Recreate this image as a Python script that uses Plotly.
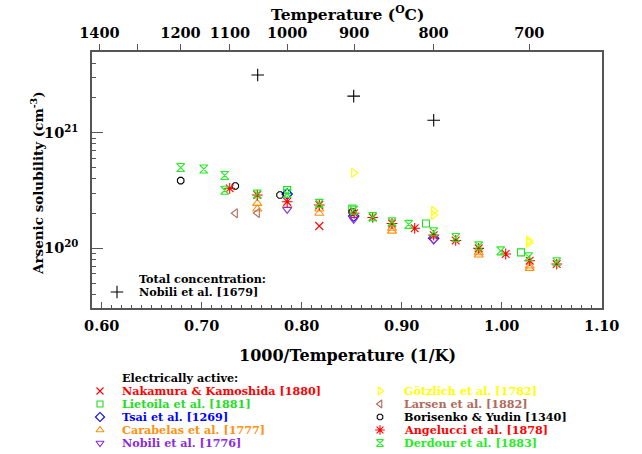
import plotly.graph_objects as go

# ---------------- data (x = 1000/T in 1/K, y = concentration in cm^-3) ----------------
nobili_total_x = [0.756, 0.852, 0.932]
nobili_total_y = [3.16e21, 2.07e21, 1.28e21]

nakamura_x = [0.8176]
nakamura_y = [1.56e20]

lietoila_x = [0.7855, 0.8505, 0.9243, 1.0193]
lietoila_y = [3.19e20, 2.21e20, 1.64e20, 9.23e19]

tsai_x = [0.7855, 0.852, 0.932]
tsai_y = [2.95e20, 1.90e20, 1.22e20]

carabelas_x = [0.7556, 0.7556, 0.7855, 0.8176, 0.8176, 0.8903, 0.8903, 0.977, 0.977, 1.028, 1.028]
carabelas_y = [2.45e20, 2.19e20, 2.37e20, 2.19e20, 2.01e20, 1.49e20, 1.41e20, 9.17e19, 8.75e19, 7.03e19, 6.71e19]

nobili_x = [0.7855, 0.852, 0.932]
nobili_y = [2.17e20, 1.78e20, 1.18e20]

gotzlich_x = [0.852, 0.932, 0.932, 1.027, 1.027]
gotzlich_y = [4.51e20, 2.11e20, 1.94e20, 1.17e20, 1.12e20]

larsen_x = [0.7336, 0.7556]
larsen_y = [2.01e20, 2.02e20]

borisenko_x = [0.679, 0.7336, 0.7783, 0.8505]
borisenko_y = [3.85e20, 3.46e20, 2.89e20, 2.06e20]

angelucci_x = [0.728, 0.7556, 0.7855, 0.8176, 0.8524, 0.871, 0.8903, 0.913, 0.932, 0.954, 0.977, 1.004, 1.028, 1.055]
angelucci_y = [3.30e20, 2.89e20, 2.53e20, 2.37e20, 2.01e20, 1.85e20, 1.64e20, 1.49e20, 1.30e20, 1.17e20, 1.00e20, 8.93e19, 7.82e19, 7.31e19]

derdour_x = [0.679, 0.702, 0.723, 0.723, 0.7556, 0.7855, 0.8176, 0.852, 0.871, 0.8903, 0.907, 0.932, 0.954, 0.977, 0.999, 1.027, 1.055]
derdour_y = [5.0e20, 4.85e20, 4.27e20, 3.18e20, 2.95e20, 2.98e20, 2.45e20, 2.14e20, 1.88e20, 1.70e20, 1.61e20, 1.39e20, 1.24e20, 1.05e20, 9.5e19, 8.45e19, 7.65e19]

series_labels = [
    "Nakamura & Kamoshida [1880]", "Lietoila et al. [1881]", "Tsai et al. [1269]",
    "Carabelas et al. [1777]", "Nobili et al. [1776]",
    "Götzlich et al. [1782]", "Larsen et al. [1882]", "Borisenko & Yudin [1340]",
    "Angelucci et al. [1878]", "Derdour et al. [1883]",
]
series_x = [nakamura_x, lietoila_x, tsai_x, carabelas_x, nobili_x,
            gotzlich_x, larsen_x, borisenko_x, angelucci_x, derdour_x]
series_y = [nakamura_y, lietoila_y, tsai_y, carabelas_y, nobili_y,
            gotzlich_y, larsen_y, borisenko_y, angelucci_y, derdour_y]

top_temps_c = [1400, 1200, 1100, 1000, 900, 800, 700]
top_labels = ["1400", "1200", "1100", "1000", "900", "800", "700"]
top_unlabelled_c = [1300]

# ---------------- styles ----------------
symbols = ["x-thin-open", "square-open", "diamond-open", "triangle-up-open", "triangle-down-open",
           "triangle-right-open", "triangle-left-open", "octagon-open", "asterisk-open", "hourglass-open"]
colors = ["#ff0000", "#22dd22", "#0000ff", "#ff9010", "#8a2be2",
          "#ffff00", "#b06a5a", "#000000", "#ff0000", "#22ee22"]
sizes = [8, 7, 8, 8, 8, 8, 8, 7, 9, 8]

W, H = 642, 454
L, R, T, B = 92, 601.7, 52, 308
FONT = "DejaVu Serif"
LEG_SIZE = 11.2

def px(xp):
    return xp / W

def py(yp):
    return 1 - yp / H

fig = go.Figure()

# total concentration
fig.add_trace(go.Scatter(x=nobili_total_x, y=nobili_total_y, mode="markers",
                         marker=dict(symbol="cross-thin-open", size=9, color="black",
                                     line=dict(width=1.1, color="black")),
                         showlegend=False, xaxis="x", yaxis="y"))

for sx, sy, sym, col, sz in zip(series_x, series_y, symbols, colors, sizes):
    fig.add_trace(go.Scatter(x=sx, y=sy, mode="markers",
                             marker=dict(symbol=sym, size=sz, color=col,
                                         line=dict(width=1.1, color=col)),
                             showlegend=False, xaxis="x", yaxis="y"))

# dummy traces for top axes
fig.add_trace(go.Scatter(x=[None], y=[None], xaxis="x2", yaxis="y", showlegend=False))
fig.add_trace(go.Scatter(x=[None], y=[None], xaxis="x4", yaxis="y", showlegend=False))

# ---------------- legend keys on pixel axis ----------------
for i, (sym, col, sz) in enumerate(zip(symbols, colors, sizes)):
    col_i, row_i = divmod(i, 5)
    fig.add_trace(go.Scatter(x=[100 if col_i == 0 else 380], y=[391 + 13 * row_i],
                             mode="markers", xaxis="x3", yaxis="y3",
                             marker=dict(symbol=sym, size=sz - 1, color=col,
                                         line=dict(width=1.1, color=col)),
                             showlegend=False, hoverinfo="skip"))
fig.add_trace(go.Scatter(x=[117], y=[292], mode="markers", xaxis="x3", yaxis="y3",
                         marker=dict(symbol="cross-thin-open", size=9, color="black",
                                     line=dict(width=1.1, color="black")),
                         showlegend=False, hoverinfo="skip"))

annotations = []
def text(xp, yp, s, color="black", size=12, xanchor="left", angle=0):
    annotations.append(dict(x=px(xp), y=py(yp), xref="paper", yref="paper", text=s,
                            showarrow=False, xanchor=xanchor, yanchor="middle", textangle=angle,
                            borderpad=0,
                            font=dict(family=FONT, size=size, color=color, weight="bold")))

for i, (lab, col) in enumerate(zip(series_labels, colors)):
    col_i, row_i = divmod(i, 5)
    text(121 if col_i == 0 else 403, 391 + 13 * row_i, lab, color=col, size=LEG_SIZE)
text(121, 378, "Electrically active:", size=LEG_SIZE)
text(138, 279, "Total concentration:", size=LEG_SIZE)
text(138, 292, "Nobili et al. [1679]", size=LEG_SIZE)
text(348, 355, "1000/Temperature (1/K)", size=16, xanchor="center")
text(348, 13, "Temperature (<sup>O</sup>C)", size=15.5, xanchor="center")
text(37, 183, "Arsenic solubility (cm<sup>-3</sup>)", size=13.5, xanchor="center", angle=-90)

xrange = [0.5903, 1.10]
linecol = "#555555"
tickfont = dict(family=FONT, size=14.5, color="black", weight="bold")

minor_y = [float(m) * 10.0 ** e for e in (19, 20, 21) for m in range(2, 10)]
minor_y = [v for v in minor_y if 3.0e19 <= v <= 5.0e21]

top_common = dict(domain=[px(L), px(R)], range=xrange, overlaying="x", side="top", anchor="y",
                  automargin=False, showline=False, showgrid=False, zeroline=False,
                  tickmode="array", ticks="outside", ticklen=7, tickcolor=linecol, tickwidth=1,
                  tickfont=tickfont)

fig.update_layout(
    width=W, height=H, autosize=False,
    margin=dict(l=0, r=0, t=0, b=0, pad=0, autoexpand=False),
    paper_bgcolor="white", plot_bgcolor="rgba(0,0,0,0)",
    showlegend=False,
    annotations=annotations,
    xaxis=dict(domain=[px(L), px(R)], range=xrange, anchor="y", automargin=False,
               showline=True, linecolor=linecol, linewidth=1.5, mirror=True,
               showgrid=False, zeroline=False,
               tick0=0.6, dtick=0.1, tickformat=".2f",
               ticks="inside", ticklen=6, tickcolor=linecol, tickwidth=1,
               minor=dict(dtick=0.01, tick0=0.6, ticks="inside", ticklen=3, tickcolor=linecol, showgrid=False),
               tickfont=tickfont, ticklabelstandoff=4),
    xaxis2=dict(top_common,
                tickvals=[1000.0 / (t + 273.15) for t in top_temps_c], ticktext=top_labels),
    xaxis4=dict(top_common, showticklabels=False,
                tickvals=[1000.0 / (t + 273.15) for t in top_unlabelled_c]),
    yaxis=dict(domain=[py(B), py(T)], type="log", range=[19.484, 21.698], anchor="x",
               automargin=False,
               showline=True, linecolor=linecol, linewidth=1.5, mirror=True,
               showgrid=False, zeroline=False,
               tickmode="array", tickvals=[1e20, 1e21],
               ticktext=["10<sup>20</sup>", "10<sup>21</sup>"],
               ticks="inside", ticklen=11, tickcolor=linecol, tickwidth=1,
               minor=dict(tickmode="array", tickvals=minor_y, ticks="inside", ticklen=4,
                          tickcolor=linecol, showgrid=False),
               tickfont=tickfont, ticklabelstandoff=9),
    xaxis3=dict(domain=[0, 1], range=[0, W], anchor="y3", visible=False, fixedrange=True,
                automargin=False),
    yaxis3=dict(domain=[0, 1], range=[H, 0], anchor="x3", visible=False, fixedrange=True,
                automargin=False),
)

fig.write_html("out.html")
